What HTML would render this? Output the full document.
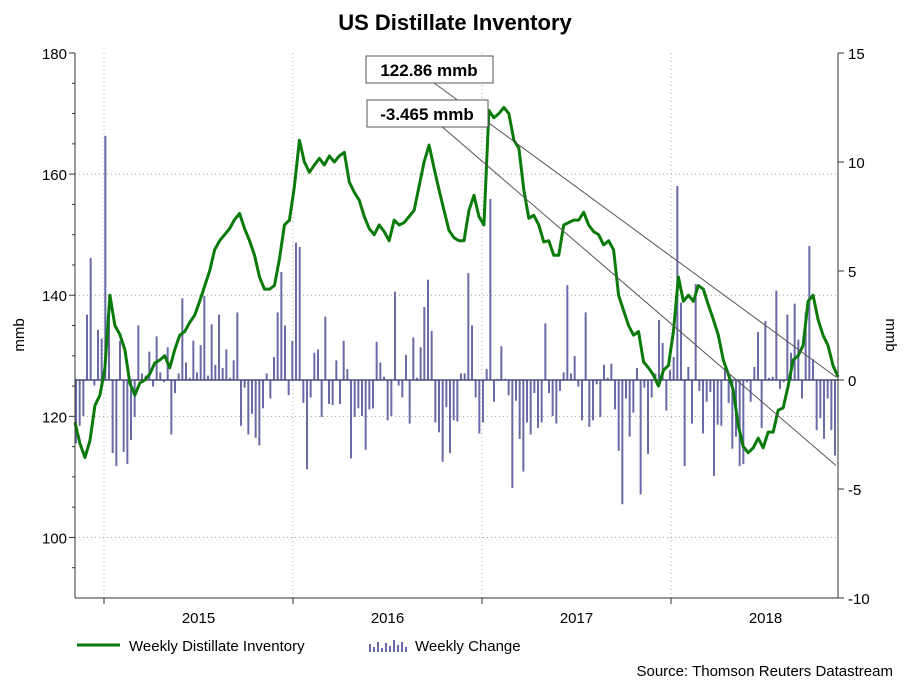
<!DOCTYPE html>
<html><head><meta charset="utf-8"><style>
body{margin:0;background:#fff;font-family:"Liberation Sans",sans-serif;}
svg text{font-family:"Liberation Sans",sans-serif;}
</style></head><body>
<svg id="chart" width="909" height="682">
<text x="455" y="30" text-anchor="middle" font-size="22" font-weight="bold">US Distillate Inventory</text>
<g id="grid"></g><g id="bars"></g><g id="line"></g><g id="axes"></g><g id="ann"></g>
<g>
<line x1="77" y1="645" x2="120" y2="645" stroke="#0a7a0a" stroke-width="3"/>
<text x="129" y="651" font-size="15">Weekly Distillate Inventory</text>
<g id="legbars"></g>
<text x="415" y="651" font-size="15">Weekly Change</text>
</g>
<text x="893" y="676" text-anchor="end" font-size="15">Source: Thomson Reuters Datastream</text>
<text transform="translate(24,335) rotate(-90)" text-anchor="middle" font-size="15">mmb</text>
<text transform="translate(886,335) rotate(90)" text-anchor="middle" font-size="15">mmb</text>
</svg>
<script>
const leftTicks=[100,120,140,160,180];
const rightTicks=[-10,-5,0,5,10,15];
const yearLabels=['2015','2016','2017','2018'];
const inventory=[119,115.5,113.2,116,121.8,123.5,128,140,135,133.5,131,125.5,123.5,125.5,126,127,128.8,129.3,130,128,131,133.4,134,135.5,136.7,139,141.5,144,147.5,149,150,151,152.5,153.5,151,149,146.6,143,141,141,141.6,146,151.6,152.4,158,165.6,162,160.3,161.5,162.6,161.5,163,162,163,163.6,158.7,157,155.7,153,151,150,151.6,150.5,149,152.4,151.6,152,153,154,158,162,164.8,161,157.4,154,150.7,149.5,149,149,154,156.5,153,151.6,170.5,169.3,170,171,170,165.6,164.3,157.4,152.7,153.2,151.6,148.8,149,146.6,146.6,151.6,152,152.4,152.4,153.7,151.6,150.5,150,148.3,149,147.5,140,137.5,135,133.4,134,129,128,126.8,125,127.6,128.4,134,143,139,140,139,141.6,141,138.4,136,133.4,129.3,127,124.3,118.5,115,114,114.8,116.4,114.8,117.4,117.4,121,121.4,125,129.3,130,131.7,139,140,136,133.4,131.7,128.4,126.5];
const weeklyChange=[-2.9,-2.1,-1.65,3.0,5.6,-0.25,2.3,1.9,11.2,2.9,-3.35,-3.95,1.8,-3.3,-3.85,-2.75,-1.7,2.5,0.3,0.2,1.3,-0.3,2.0,0.35,-0.1,1.5,-2.5,-0.6,0.3,3.75,0.8,0.1,1.8,0.35,1.6,3.85,0.2,2.55,0.7,3.0,0.55,1.4,0.1,0.9,3.1,-2.1,-0.35,-2.5,-1.55,-2.65,-3.0,-1.3,0.3,-0.85,1.05,3.1,4.95,2.5,-0.7,1.8,6.3,6.1,-1.05,-4.1,-0.8,1.25,1.4,-1.7,2.9,-1.1,
-1.15,0.9,-1.1,1.8,0.5,-3.6,-1.7,-1.3,-1.65,-3.2,-1.35,-1.3,1.75,0.8,0.15,-1.85,-1.65,4.05,-0.25,-0.8,1.15,-2.0,1.95,0.1,1.5,3.35,4.6,2.25,-1.95,-2.4,-3.75,-1.25,-3.35,-1.85,-1.9,0.3,0.3,4.9,2.5,-0.8,-2.45,-1.95,0.5,8.3,-1.0,0.05,1.55,0.05,-0.7,-4.95,-0.95,-2.7,-4.2,-1.95,-2.5,-0.6,-2.2,-1.95,2.6,-0.6,-1.65,-2.0,-0.5,0.35,4.35,0.3,1.1,-0.3,
-1.85,3.1,-2.15,-1.85,-0.2,-1.7,0.7,0.1,0.75,-1.35,-3.25,-5.7,-0.85,-2.6,-1.5,0.55,-5.25,-0.35,-3.4,-0.8,0.3,2.75,1.7,-1.4,0.45,1.05,8.9,3.55,-3.95,0.6,-2.0,4.4,-0.5,-2.45,-1.0,-0.55,-4.4,-2.05,-2.1,0.55,-1.05,-3.15,-2.6,-3.95,-3.85,-0.1,-1.0,0.6,2.2,-2.2,2.7,0.1,0.15,4.1,-0.4,-0.1,3.0,1.25,3.5,1.85,-0.85,3.1,6.15,0.95,-2.3,-1.75,-2.7,-0.85,-2.3,-3.465];
const NS='http://www.w3.org/2000/svg';
const X0=75,X1=838,TOP=53,BOT=598;
const yL=v=>TOP+(180-v)*(BOT-TOP)/90;
const yR=v=>TOP+(15-v)*(BOT-TOP)/25;
const xLine=i=>X0+i*(X1-X0)/(inventory.length-1);
const xBar=i=>76+i*(835-76)/(weeklyChange.length-1);
function mk(tag,attrs,parent){const e=document.createElementNS(NS,tag);for(const k in attrs)e.setAttribute(k,attrs[k]);document.getElementById(parent).appendChild(e);return e;}
// grid
leftTicks.forEach(t=>{
 if(t<180){const g=mk('line',{x1:X0,x2:X1,y1:yL(t),y2:yL(t),stroke:'#9aa88a','stroke-dasharray':'1,3'},'grid');
 
 }
 const tl=mk('text',{x:X0-8,y:yL(t)+6,'text-anchor':'end','font-size':15},'axes');tl.textContent=t;
 
 
 mk('line',{x1:X0-6,x2:X0,y1:yL(t),y2:yL(t),stroke:'#333'},'axes');
});
for(let v=95;v<180;v+=5){if(v%20)mk('line',{x1:X0-3,x2:X0,y1:yL(v),y2:yL(v),stroke:'#333'},'axes');}
rightTicks.forEach(t=>{
 const tl=mk('text',{x:X1+10,y:yR(t)+6,'font-size':15},'axes');tl.textContent=t;
 
 
 mk('line',{x1:X1,x2:X1+6,y1:yR(t),y2:yR(t),stroke:'#333'},'axes');
});
const yearStart=104,yearW=189;
yearLabels.forEach((y,i)=>{
 const gx=yearStart+i*yearW;
 const g=mk('line',{x1:gx,x2:gx,y1:TOP,y2:BOT,stroke:'#aaa','stroke-dasharray':'1,3'},'grid');
 
 
 mk('line',{x1:gx,x2:gx,y1:BOT,y2:BOT+6,stroke:'#333'},'axes');
 const tl=mk('text',{x:gx+yearW/2,y:623,'text-anchor':'middle','font-size':15},'axes');tl.textContent=y;
 
 
});
// bars
weeklyChange.forEach((v,i)=>{
 const x=xBar(i),y0=yR(0),y1=yR(v);
 const b=mk('rect',{x:x-1,y:Math.min(y0,y1),width:2,height:Math.max(0.5,Math.abs(y1-y0)),fill:'#6a6aa8'},'bars');
 
 
});
const zl=mk('line',{x1:X0,x2:X1,y1:yR(0),y2:yR(0),stroke:'#4a4a7a','stroke-width':1.5},'bars');


// line
const pl=mk('polyline',{points:inventory.map((v,i)=>xLine(i)+','+yL(v)).join(' '),fill:'none',stroke:'#0a7a0a','stroke-width':3,'stroke-linejoin':'round'},'line');


// axes lines
mk('line',{x1:X0,x2:X0,y1:TOP,y2:BOT,stroke:'#333'},'axes');
mk('line',{x1:X1,x2:X1,y1:TOP,y2:BOT,stroke:'#333'},'axes');
mk('line',{x1:X0,x2:X1,y1:BOT,y2:BOT,stroke:'#333'},'axes');
// annotations
const lastInv=inventory[inventory.length-1],lastChg=weeklyChange[weeklyChange.length-1];
mk('line',{x1:430,y1:80,x2:X1-2,y2:yL(lastInv),stroke:'#555'},'ann');
mk('line',{x1:440,y1:125,x2:X1-2,y2:yR(lastChg)+10,stroke:'#555'},'ann');
const b1=mk('rect',{x:366,y:56,width:127,height:27,fill:'#fff',stroke:'#555'},'ann');


const t1=mk('text',{x:429,y:76,'text-anchor':'middle','font-size':17,'font-weight':'bold'},'ann');t1.textContent='122.86 mmb';
const b2=mk('rect',{x:367,y:100,width:121,height:27,fill:'#fff',stroke:'#555'},'ann');


const t2=mk('text',{x:427,y:120,'text-anchor':'middle','font-size':17,'font-weight':'bold'},'ann');t2.textContent='-3.465 mmb';
// legend bars
[8,5,10,4,9,6,12,7,10,5].forEach((h,i)=>{mk('rect',{x:369+i*4,y:652-h,width:2,height:h,fill:'#6a6aa8'},'legbars');});
</script>
</body></html>
